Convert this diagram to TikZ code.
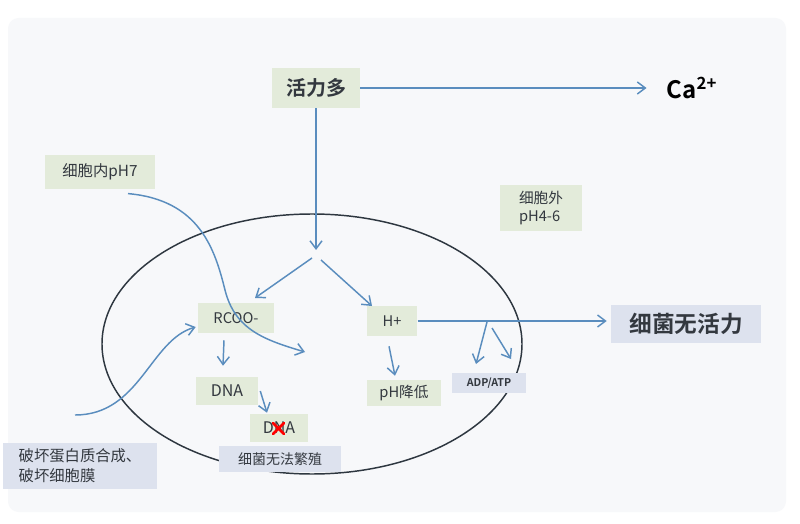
\documentclass[tikz,border=0pt]{standalone}
\usepackage{fontspec}
\setmainfont{Noto Sans CJK SC}[BoldFont={Noto Sans CJK SC Bold}]
\usetikzlibrary{positioning,arrows.meta,calc}
\definecolor{flow}{HTML}{5A8DBE}
\definecolor{greenbox}{HTML}{E3EBDA}
\definecolor{bluebox}{HTML}{DDE2EE}
\definecolor{ink}{HTML}{33383F}
\definecolor{rim}{HTML}{2E3740}
\definecolor{paper}{HTML}{F7F8FA}

\begin{document}
\begin{tikzpicture}[x=0.75pt,y=-0.75pt,every node/.style={text=ink,inner sep=0pt},
  flowarrow/.style={draw=flow,line width=1.1pt,-{Straight Barb[length=6pt,width=9pt]}},
  gbox/.style={fill=greenbox},
  bbox/.style={fill=bluebox}]
  % page
  \useasboundingbox (0,0) rectangle (800,524);
  \fill[white] (0,0) rectangle (800,524);
  \fill[paper,rounded corners=8pt] (8,18) rectangle (786,512);
  % cell
  \draw[rim,line width=1.1pt] (312,344) ellipse [x radius=157.5pt,y radius=97.5pt];
  % boxes
  \node[gbox,minimum width=66pt,minimum height=30pt,font=\fontsize{15}{18}\selectfont\bfseries] (huoli) at (316,88) {活力多};
  \node[font=\fontsize{18}{21}\selectfont\bfseries,text=black] (ca) at (692,88) {Ca\textsuperscript{2+}};
  \node[gbox,minimum width=82.5pt,minimum height=26pt,font=\fontsize{11.5}{14}\selectfont] (inpH) at (100,172) {细胞内pH7};
  \node[gbox,minimum width=61.5pt,minimum height=35pt,align=left,font=\fontsize{11}{13.5}\selectfont] (outpH) at (541,208) {细胞外\\pH4-6};
  \node[gbox,minimum width=57pt,minimum height=22.5pt,font=\fontsize{11}{13}\selectfont] (rcoo) at (236,318) {RCOO-};
  \node[gbox,minimum width=38pt,minimum height=22.5pt,font=\fontsize{11}{13}\selectfont] (hplus) at (392,321) {H+};
  \node[bbox,minimum width=112.5pt,minimum height=28.5pt,font=\fontsize{17}{20}\selectfont\bfseries] (wuhuoli) at (686,324) {细菌无活力};
  \node[bbox,minimum width=55pt,minimum height=15pt,font=\fontsize{8}{10}\selectfont\bfseries] (adp) at (489,383) {ADP/ATP};
  \node[gbox,minimum width=55pt,minimum height=19.5pt,font=\fontsize{11}{13}\selectfont] (phjd) at (404,393) {pH降低};
  \node[gbox,minimum width=46.5pt,minimum height=21pt,font=\fontsize{12}{14}\selectfont] (dna1) at (227,391) {DNA};
  \node[gbox,minimum width=43.5pt,minimum height=21pt,font=\fontsize{12}{14}\selectfont] (dna2) at (279,428) {DNA};
  \node[bbox,minimum width=91pt,minimum height=20pt,font=\fontsize{10.5}{12}\selectfont] (fanzhi) at (280,459) {细菌无法繁殖};
  \node[bbox,minimum width=115.5pt,minimum height=35pt,align=left,font=\fontsize{11.5}{15}\selectfont] (pohuai) at (80,466) {破坏蛋白质合成、\\破坏细胞膜};
  % red cross on the N
  \draw[red,line width=2pt,line cap=round] ($(dna2.center)+(-6,-5)$) -- ($(dna2.center)+(5,6)$);
  \draw[red,line width=2pt,line cap=round] ($(dna2.center)+(-6,6)$) -- ($(dna2.center)+(5,-5)$);
  % fork points
  \coordinate (split) at (316,250);
  \coordinate (forkL) at (312,258);
  \coordinate (forkR) at (321,260);
  \coordinate (rcooIn) at (255,298);
  \coordinate (hIn) at (372,306);
  \coordinate (tapA) at (487,322);
  \coordinate (tapB) at (492,328);
  \coordinate (adpL) at (476,364);
  \coordinate (adpR) at (511,359);
  \coordinate (lowStart) at (75,415);
  % arrows
  \draw[flowarrow,shorten >=15pt] (huoli.east) -- (ca.west);
  \draw[flowarrow] (huoli.south) -- (split);
  \draw[flowarrow] (forkL) -- (rcooIn);
  \draw[flowarrow] (forkR) -- (hIn);
  \draw[flowarrow,shorten >=3pt] (hplus.east) -- (hplus.east -| wuhuoli.west);
  \draw[flowarrow] (tapA) -- (adpL);
  \draw[flowarrow] (tapB) -- (adpR);
  \draw[flowarrow] ($(hplus.south)+(-3,10)$) -- ($(phjd.north)+(-9,-4)$);
  \draw[flowarrow] ($(rcoo.south)+(-12,7)$) -- ($(dna1.north)+(-4,-11)$);
  \draw[flowarrow] ($(dna1.east)+(2,0)$) -- ($(dna2.north)+(-12,-1)$);
  % curves
  \draw[flowarrow] ($(inpH.south)+(28,4)$) .. controls (200,200) and (215,250) .. (225,290)
    .. controls (235,330) and (265,340) .. (305,352);
  \draw[flowarrow] (lowStart) .. controls (140,415) and (150,340) .. ($(rcoo.west)+(-2,9)$);
\end{tikzpicture}
\end{document}
